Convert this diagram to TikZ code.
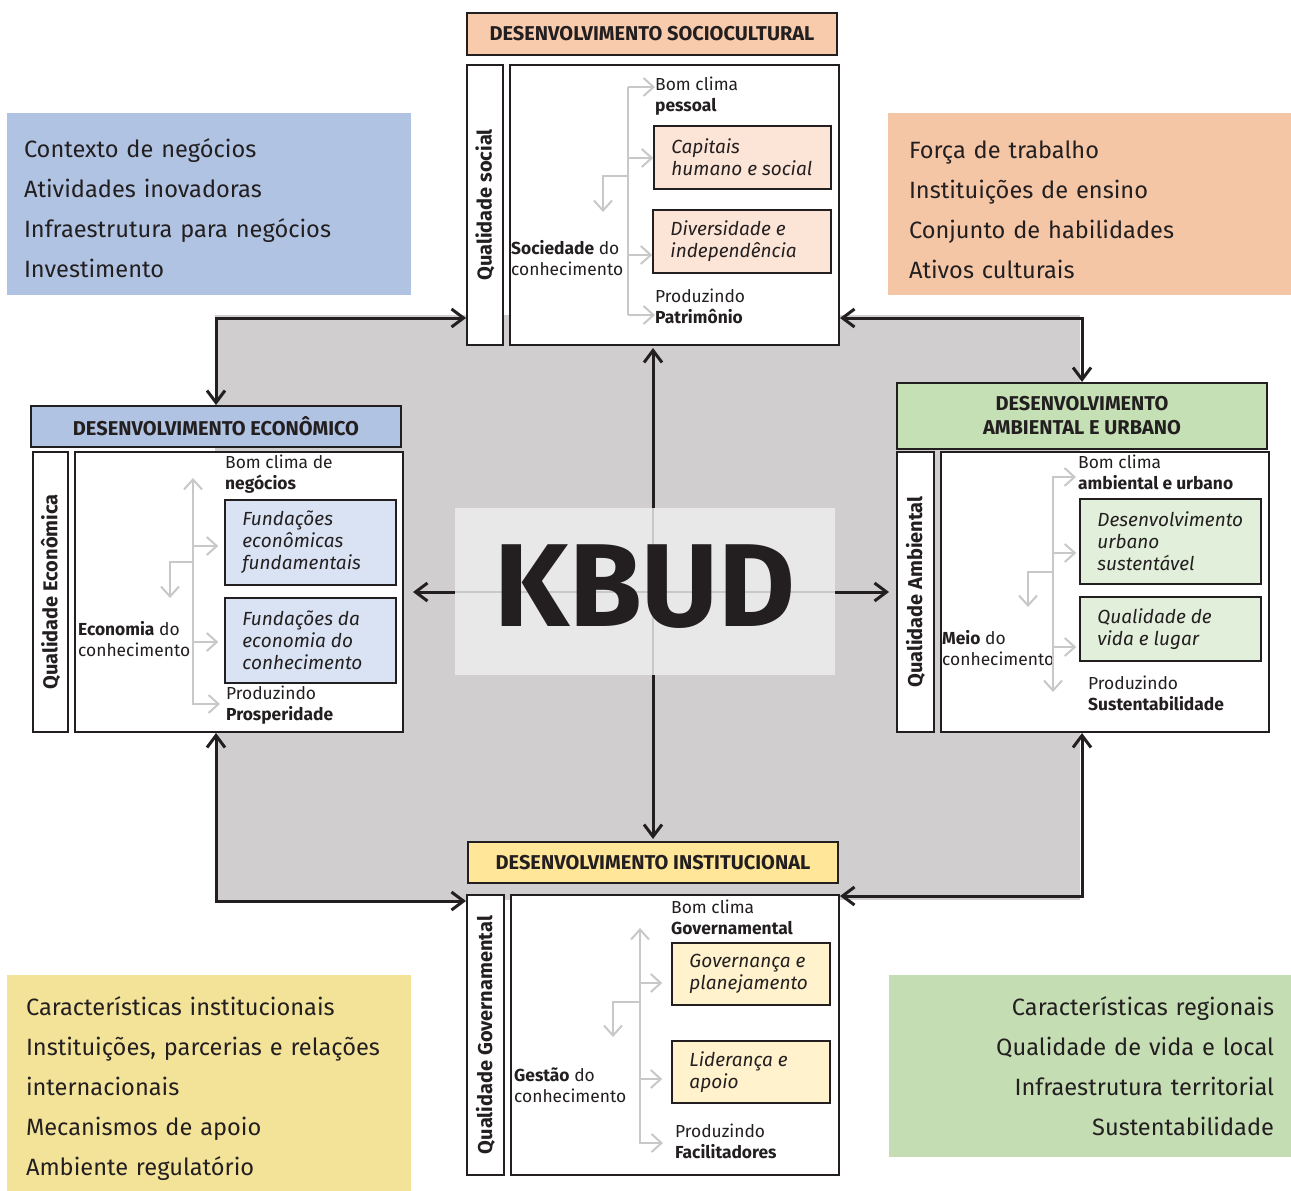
\documentclass[tikz,border=0pt]{standalone}
\usepackage{fontspec}
\setmainfont{Fira Sans}
\usepackage{xcolor}
\usepackage{tikz}
\usetikzlibrary{calc,arrows.meta,positioning}
\definecolor{inkc}{HTML}{231F20}
\definecolor{bgc}{HTML}{D0CECF}
\definecolor{midc}{HTML}{E8E8E8}
\definecolor{treec}{HTML}{C8C8C8}
\definecolor{bluec}{HTML}{B0C3E2}
\definecolor{bluel}{HTML}{DAE3F3}
\definecolor{peachc}{HTML}{F8CBAD}
\definecolor{peachk}{HTML}{F4C6A5}
\definecolor{peachl}{HTML}{FCE4D6}
\definecolor{greenc}{HTML}{C5E0B4}
\definecolor{greenk}{HTML}{C5DDB3}
\definecolor{greenl}{HTML}{E2EFDA}
\definecolor{yellc}{HTML}{FFE699}
\definecolor{yellk}{HTML}{F3E398}
\definecolor{yelll}{HTML}{FFF2CC}
\tikzset{
  con/.style={line width=3pt,{Straight Barb[length=12pt,width=18pt]}-{Straight Barb[length=12pt,width=18pt]}},
  tr/.style={line width=2pt,treec},
  tra/.style={tr,-{Straight Barb[length=10pt,width=18pt]}},
  trb/.style={tr,{Straight Barb[length=10pt,width=18pt]}-{Straight Barb[length=10pt,width=18pt]}},
  hdr/.style={draw,line width=2pt,align=center,font=\fontsize{20}{24}\selectfont\bfseries,minimum width=370pt},
  sbox/.style={draw,line width=2pt,fill=white,minimum height=280pt},
  qtxt/.style={rotate=90,font=\fontsize{20}{20}\selectfont\bfseries},
  lbl/.style={anchor=west,inner sep=0pt,align=left,font=\fontsize{17.4}{21}\selectfont},
  ibox/.style={draw,line width=1.5pt},
  itx/.style={inner sep=0pt,align=left,font=\fontsize{19}{22}\selectfont\itshape},
  cbox/.style={inner ysep=0pt,font=\fontsize{23.6}{40}\selectfont}
}
\newcommand{\lst}[2]{\rule{0pt}{#1}#2\rule[-6pt]{0pt}{0pt}}

\begin{document}
\begin{tikzpicture}[x=1pt,y=-1pt,inkc]
\useasboundingbox (0,0) rectangle (1291,1191);
\fill[bgc] (215,315) rectangle (1080,900);
\node[cbox,fill=bluec,minimum width=404pt,minimum height=182pt,inner xsep=17pt,text width=370pt,align=left] (lstE) at (209,204) {\lst{32pt}{Contexto de negócios\\Atividades inovadoras\\Infraestrutura para negócios\\Investimento}};
\node[cbox,fill=peachk,minimum width=403pt,minimum height=182pt,inner xsep=21pt,text width=361pt,align=left] (lstS) at (1089.5,204) {\lst{34pt}{Força de trabalho\\Instituições de ensino\\Conjunto de habilidades\\Ativos culturais}};
\node[cbox,fill=yellk,minimum width=404pt,minimum height=216pt,inner xsep=19pt,text width=366pt,align=left] (lstI) at (209,1083) {\lst{30pt}{Características institucionais\\Instituições, parcerias e relações\\internacionais\\Mecanismos de apoio\\Ambiente regulatório}};
\node[cbox,fill=greenk,minimum width=402pt,minimum height=182pt,inner xsep=17pt,text width=368pt,align=right] (lstA) at (1090,1066) {\lst{24pt}{Características regionais\\Qualidade de vida e local\\Infraestrutura territorial\\Sustentabilidade}};

\node[hdr,fill=peachc,minimum height=42pt] (socH) at (652,34) {DESENVOLVIMENTO SOCIOCULTURAL};
\node[sbox,minimum width=36pt,below right=8pt and 0pt of socH.south west] (socS) {};
\node[sbox,minimum width=329pt,right=5pt of socS] (socM) {};
\node[qtxt] (socQ) at (socS) {Qualidade social};
\node[hdr,fill=bluec,minimum height=41pt] (ecoH) at (216,426.5) {DESENVOLVIMENTO ECONÔMICO};
\node[sbox,minimum width=35pt,below right=3pt and 2pt of ecoH.south west] (ecoS) {};
\node[sbox,minimum width=328pt,right=5pt of ecoS] (ecoM) {};
\node[qtxt] (ecoQ) at (ecoS) {Qualidade Econômica};
\node[hdr,fill=greenc,minimum height=66pt] (ambH) at (1082,416) {DESENVOLVIMENTO\\AMBIENTAL E URBANO};
\node[sbox,minimum width=37pt,below right=1pt and 0pt of ambH.south west] (ambS) {};
\node[sbox,minimum width=328pt,right=5pt of ambS] (ambM) {};
\node[qtxt] (ambQ) at (ambS) {Qualidade Ambiental};
\node[hdr,fill=yellc,minimum height=41pt] (insH) at (653,862.5) {DESENVOLVIMENTO INSTITUCIONAL};
\node[sbox,minimum width=37pt,below right=10pt and -1pt of insH.south west] (insS) {};
\node[sbox,minimum width=328pt,right=5pt of insS] (insM) {};
\node[qtxt] (insQ) at (insS) {Qualidade Governamental};

\draw[con] (ecoH.north) |- ([yshift=28pt]socS.south west);
\draw[con] ([yshift=28pt]socM.south east) -| (ambH.north);
\draw[con] (ecoM.south -| ecoH.north) |- ([yshift=-7pt]insS.north west);
\draw[con] (ambM.south -| ambH.north) |- ([yshift=-2pt]insM.north east);
\draw[con,shorten <=2pt,shorten >=2pt] (socM.south -| insH.north) -- (insH.north);
\draw[con,shorten <=9pt,shorten >=7pt] (ecoM.east) -- (ecoM.east -| ambS.west);
\node[fill=midc,minimum width=380pt,minimum height=167pt] (kbud) at (645,591.5) {};
\draw[tr,line width=2.5pt] (kbud.west |- ecoM.east) -- (kbud.east |- ecoM.east);
\draw[tr,line width=2.5pt] (kbud.north -| insH.north) -- (kbud.south -| insH.north);
\node[font=\fontsize{118}{118}\selectfont\bfseries] (kbudT) at ([yshift=5pt]kbud) {KBUD};

\node[lbl] (socBom) at (655,96) {Bom clima\\\textbf{pessoal}};
\node[ibox,fill=peachl,minimum width=177pt,minimum height=63pt] (socCap) at (742.5,157.5) {};
\node[itx,right=18pt of socCap.west] (socCapT) {Capitais\\humano e social};
\node[ibox,fill=peachl,minimum width=178pt,minimum height=63pt] (socDiv) at (742,241.5) {};
\node[itx,right=18pt of socDiv.west] (socDivT) {Diversidade e\\independência};
\node[lbl] (socSoc) at (511,258.5) {\textbf{Sociedade} do\\conhecimento};
\node[lbl] (socPro) at (655,306.5) {Produzindo\\\textbf{Patrimônio}};
\coordinate (s1) at (628,87);
\coordinate (s2) at (628,158);
\coordinate (s3) at (628,255);
\coordinate (s4) at (628,315);
\coordinate (sJ) at (628,176);
\draw[tr] (s1) -- (s4);
\foreach \p/\q in {s1/socBom,s2/socCap,s3/socDiv,s4/socPro} \draw[tra] (\p) -- (\p -| \q.west);
\draw[tra] (sJ) -| ++(-25,36);

\node[lbl] (ecoBom) at (225,474.5) {Bom clima de\\\textbf{negócios}};
\node[ibox,fill=bluel,minimum width=171pt,minimum height=85pt] (ecoF1) at (310.5,542.5) {};
\node[itx,right=18pt of ecoF1.west] (ecoF1T) {Fundações\\econômicas\\fundamentais};
\node[ibox,fill=bluel,minimum width=171pt,minimum height=85pt] (ecoF2) at (310.5,640.5) {};
\node[itx,right=18pt of ecoF2.west] (ecoF2T) {Fundações da\\economia do\\conhecimento};
\node[lbl] (ecoEco) at (78,639) {\textbf{Economia} do\\conhecimento};
\node[lbl] (ecoPro) at (226,705) {Produzindo\\\textbf{Prosperidade}};
\coordinate (e1) at (193,478);
\coordinate (e2) at (193,546);
\coordinate (e3) at (193,642);
\coordinate (e4) at (193,704);
\coordinate (eJ) at (193,562);
\draw[trb,shorten >=6pt] (e1) -- (e4) -- (e4 -| ecoPro.west);
\foreach \p/\q in {e2/ecoF1,e3/ecoF2} \draw[tra,shorten >=6pt] (\p) -- (\p -| \q.west);
\draw[tra] (eJ) -| ++(-23,36);

\node[lbl] (ambBom) at (1078,472.5) {Bom clima\\\textbf{ambiental e urbano}};
\node[ibox,fill=greenl,minimum width=181pt,minimum height=85pt] (ambD) at (1170.5,541.5) {};
\node[itx,right=18pt of ambD.west] (ambDT) {Desenvolvimento\\urbano\\sustentável};
\node[ibox,fill=greenl,minimum width=181pt,minimum height=64pt] (ambV) at (1170.5,629) {};
\node[itx,right=18pt of ambV.west] (ambVT) {Qualidade de\\vida e lugar};
\node[lbl] (ambMeio) at (942,648.5) {\textbf{Meio} do\\conhecimento};
\node[lbl] (ambPro) at (1088,693) {Produzindo\\\textbf{Sustentabilidade}};
\coordinate (a1) at (1053,477);
\coordinate (a2) at (1053,553);
\coordinate (a3) at (1053,647);
\coordinate (a4) at (1053,692);
\coordinate (aJ) at (1053,572);
\draw[trb,shorten <=2pt] (a1 -| ambBom.west) -- (a1) -- (a4);
\foreach \p/\q in {a2/ambD,a3/ambV} \draw[tra,shorten >=3pt] (\p) -- (\p -| \q.west);
\draw[tra] (aJ) -| ++(-25,35);

\node[lbl] (insBom) at (671,917) {Bom clima\\\textbf{Governamental}};
\node[ibox,fill=yelll,minimum width=158pt,minimum height=62pt] (insG) at (751,974) {};
\node[itx,right=18pt of insG.west] (insGT) {Governança e\\planejamento};
\node[ibox,fill=yelll,minimum width=158pt,minimum height=62pt] (insL) at (751,1072) {};
\node[itx,right=18pt of insL.west] (insLT) {Liderança e\\apoio};
\node[lbl] (insGes) at (514,1085.5) {\textbf{Gestão} do\\conhecimento};
\node[lbl] (insPro) at (675,1141.5) {Produzindo\\\textbf{Facilitadores}};
\coordinate (i1) at (640,928);
\coordinate (i2) at (640,983);
\coordinate (i3) at (640,1079);
\coordinate (i4) at (640,1143);
\coordinate (iJ) at (640,1002);
\draw[trb,shorten >=12pt] (i1) -- (i4) -- (i4 -| insPro.west);
\foreach \p/\q in {i2/insG,i3/insL} \draw[tra,shorten >=9pt] (\p) -- (\p -| \q.west);
\draw[tra] (iJ) -| ++(-27,35);
\end{tikzpicture}
\end{document}
